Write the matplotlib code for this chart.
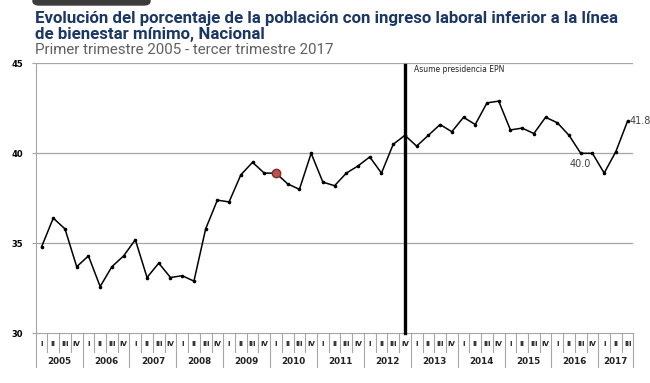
import matplotlib
matplotlib.use("Agg")
import matplotlib.pyplot as plt
from matplotlib.patches import FancyBboxPatch
import matplotlib.transforms as mtransforms

# Datos: porcentaje trimestral 2005 I - 2017 III
anios = ['2005', '2006', '2007', '2008', '2009', '2010', '2011',
         '2012', '2013', '2014', '2015', '2016', '2017']
trimestres = ['I', 'II', 'III', 'IV']
valores = [34.8, 36.4, 35.8, 33.7,
           34.3, 32.6, 33.7, 34.3,
           35.2, 33.1, 33.9, 33.1,
           33.2, 32.9, 35.8, 37.4,
           37.3, 38.8, 39.5, 38.9,
           38.9, 38.3, 38.0, 40.0,
           38.4, 38.2, 38.9, 39.3,
           39.8, 38.9, 40.5, 41.0,
           40.4, 41.0, 41.6, 41.2,
           42.0, 41.6, 42.8, 42.9,
           41.3, 41.4, 41.1, 42.0,
           41.7, 41.0, 40.0, 40.0,
           38.9, 40.1, 41.8]
indice_epn = 31      # 2012 IV
indice_rojo = 20     # 2010 I

n = len(valores)
etiquetas_q = [trimestres[i % 4] for i in range(n)]
x = list(range(n))

fig = plt.figure(figsize=(6.5, 3.83), dpi=100)
ax = fig.add_axes([0.0549, 0.1297, 0.9197, 0.705])

# Rejilla
for v in [35, 40, 45]:
    ax.axhline(v, color='#a6a6a6', lw=0.9, zorder=1)

ax.plot(x, valores, color='black', lw=1.1, marker='o', markersize=1.6, zorder=3)
ax.plot(indice_rojo, valores[indice_rojo], marker='o', markersize=6,
        markerfacecolor='#c0504d', markeredgecolor='#7f2b29', zorder=4)

# Linea vertical EPN
ax.plot([indice_epn, indice_epn], [30, 44.9], color='black', lw=2.4, zorder=5,
        clip_on=False)
ax.text(indice_epn + 0.8, 44.65, 'Asume presidencia EPN', fontsize=5.5,
        va='center', ha='left', color='#222222')

# Etiquetas de datos
ax.annotate(f'{valores[46]:.1f}', (46, valores[46]), xytext=(0, -8),
            textcoords='offset points', ha='center', va='center',
            fontsize=7, color='#404040')
ax.annotate(f'{valores[50]:.1f}', (50, valores[50]), xytext=(1.5, 0),
            textcoords='offset points', ha='left', va='center',
            fontsize=7, color='#404040', annotation_clip=False)

ax.set_xlim(-0.5, n - 0.5)
ax.set_ylim(30, 45)
ax.set_yticks([30, 35, 40, 45])
ax.set_yticklabels(['30', '35', '40', '45'], fontsize=6, fontweight='bold')
ax.tick_params(axis='y', length=3, color='#a6a6a6', pad=6)
ax.set_xticks([])
for s in ['top', 'right']:
    ax.spines[s].set_visible(False)
ax.spines['left'].set_color('#a6a6a6')
ax.spines['bottom'].set_color('#a6a6a6')

# Eje de categorias en dos niveles
tr = mtransforms.blended_transform_factory(ax.transData, ax.transAxes)
for i in range(n + 1):
    xs = i - 0.5
    bajo = -0.126 if (i % 4 == 0 or i == n) else -0.070
    ax.plot([xs, xs], [0, bajo], color='#a6a6a6', lw=0.8, transform=tr,
            clip_on=False)
for i, q in enumerate(etiquetas_q):
    ax.text(i, -0.040, q, transform=tr, ha='center', va='center',
            fontsize=5, fontweight='bold', color='#222222')
for j, a in enumerate(anios):
    ini = j * 4
    fin = min(ini + 4, n)
    ax.text((ini + fin - 1) / 2, -0.106, a, transform=tr, ha='center',
            va='center', fontsize=6.3, fontweight='bold', color='#222222')

# Titulos
fig.text(35 / 650, 1 - 22.5 / 383,
         'Evolución del porcentaje de la población con ingreso laboral inferior a la línea',
         fontsize=12.2, fontweight='bold', color='#1b3766', family='Roboto',
         va='baseline', ha='left')
fig.text(35 / 650, 1 - 38.5 / 383, 'de bienestar mínimo, Nacional',
         fontsize=12.2, fontweight='bold', color='#1b3766', family='Roboto',
         va='baseline', ha='left')
fig.text(35 / 650, 1 - 54.5 / 383,
         'Primer trimestre 2005 - tercer trimestre 2017',
         fontsize=10.9, color='#606060', family='Roboto', va='baseline',
         ha='left')

# Forma oscura recortada arriba
fig.patches.append(FancyBboxPatch((33 / 650, 1 - 5 / 383), 117 / 650, 0.05,
                                  boxstyle='round,pad=0,rounding_size=0.01',
                                  transform=fig.transFigure, color='#3c3c3c',
                                  clip_on=True))

fig.savefig('out.png', dpi=100)
